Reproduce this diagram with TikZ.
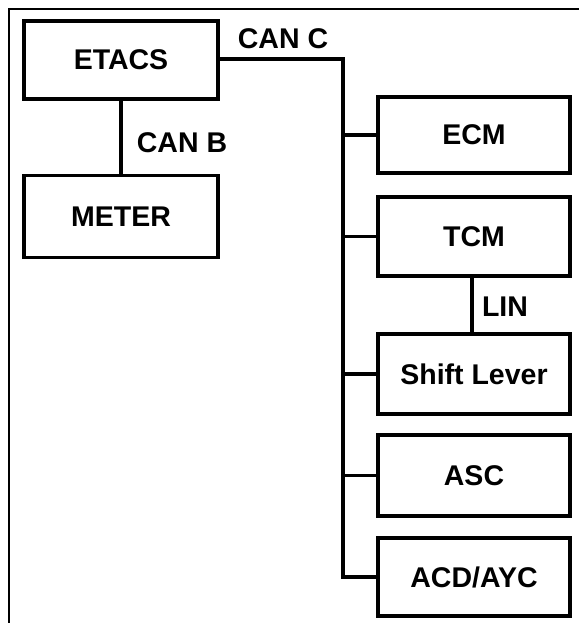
\documentclass[tikz,border=0pt]{standalone}
\usepackage{fontspec}
\setmainfont{Liberation Sans}
\begin{document}
\begin{tikzpicture}[x=1pt,y=-1pt,
  box/.style={draw,line width=3.8pt,rectangle,inner sep=0pt,font=\fontsize{28.5}{32}\selectfont\bfseries},
  wire/.style={line width=3.6pt},
  lbl/.style={inner sep=0pt,font=\fontsize{28.5}{32}\selectfont\bfseries}]
\useasboundingbox (0,0) rectangle (579,623);
\draw[line width=2.2pt] (9,623) -- (9,9) -- (579,9);
\node[box,minimum width=194pt,minimum height=78pt] (etacs) at (121,60) {ETACS};
\node[box,minimum width=194pt,minimum height=82pt] (meter) at (121,216.5) {METER};
\node[box,minimum width=192pt,minimum height=76pt] (ecm) at (474,135) {ECM};
\node[box,minimum width=192pt,minimum height=79pt] (tcm) at (474,236.5) {TCM};
\node[box,minimum width=192pt,minimum height=80pt] (shift) at (474,374) {Shift Lever};
\node[box,minimum width=192pt,minimum height=81pt] (asc) at (474,475.5) {ASC};
\node[box,minimum width=192pt,minimum height=78pt] (acd) at (474,577) {ACD/AYC};
\draw[wire] (etacs.south) -- (meter.north);
\draw[wire] (tcm.south -| 472,0) -- (shift.north -| 472,0);
\coordinate (bus) at (343,59);
\draw[wire] (etacs.east |- bus) -- (bus) |- (acd.west);
\foreach \b in {ecm,tcm,shift,asc} \draw[wire] (\b.west -| bus) -- (\b.west);
\node[lbl] (canc) at (283,39) {CAN C};
\node[lbl] (canb) at (182,143) {CAN B};
\node[lbl] (lin) at (505,307) {LIN};
\end{tikzpicture}
\end{document}
